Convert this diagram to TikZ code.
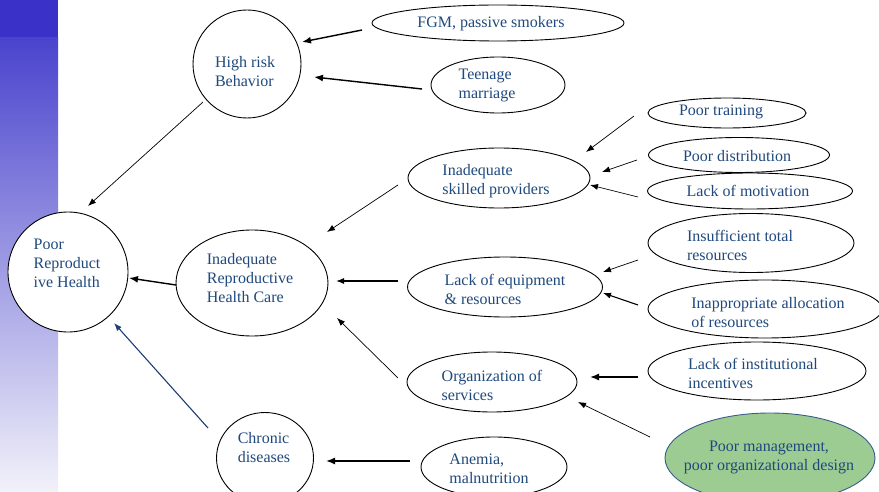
\documentclass[tikz,border=0pt]{standalone}
\usepackage{fontspec}
\setmainfont{Liberation Serif}
\usetikzlibrary{shapes.geometric,arrows.meta}
\definecolor{txtblue}{RGB}{31,73,125}
\definecolor{bardark}{RGB}{58,50,200}
\definecolor{bartop}{RGB}{74,68,205}
\definecolor{barbot}{RGB}{242,242,250}
\definecolor{mgmtgreen}{RGB}{157,204,147}
\definecolor{mgmtedge}{RGB}{56,93,138}
\definecolor{linkblue}{RGB}{31,63,120}
\begin{document}
\begin{tikzpicture}[x=1pt,y=-1pt,
  el/.style={ellipse, draw=black, fill=white, line width=0.9pt, inner sep=0pt},
  lbl/.style={text=txtblue, font=\fontsize{16}{19}\selectfont, align=left, inner sep=0pt},
  arrthin/.style={-{Latex[length=8pt,width=6pt]}, line width=0.7pt},
  arrmid/.style={-{Latex[length=8pt,width=6pt]}, line width=1.1pt},
  arrthick/.style={-{Latex[length=9pt,width=7pt]}, line width=1.4pt}]
\useasboundingbox (0,0) rectangle (879,492);
\clip (0,0) rectangle (879,492);
% side bar
\fill[bardark] (0,0) rectangle (58,38);
\shade[top color=bartop, bottom color=barbot] (0,38) rectangle (58,492);

% ellipses
\node[el, minimum width=120pt, minimum height=120pt] (pr) at (68,272) {};
\node[el, minimum width=108pt, minimum height=108pt] (hr) at (247,64) {};
\node[el, minimum width=252pt, minimum height=36pt] (fgm) at (498,23) {};
\node[el, minimum width=134pt, minimum height=56pt] (teen) at (498,85) {};
\node[el, minimum width=152pt, minimum height=106pt] (irhc) at (252,283) {};
\node[el, minimum width=182pt, minimum height=60pt] (skill) at (499,178) {};
\node[el, minimum width=158pt, minimum height=30pt] (ptrain) at (727,113) {};
\node[el, minimum width=181pt, minimum height=35pt] (pdist) at (739,155) {};
\node[el, minimum width=205pt, minimum height=36pt] (motiv) at (750,191) {};
\node[el, minimum width=195pt, minimum height=60pt] (equip) at (505,287) {};
\node[el, minimum width=206pt, minimum height=59pt] (insuff) at (751,243) {};
\node[el, minimum width=234pt, minimum height=58pt] (inapp) at (765,309) {};
\node[el, minimum width=170pt, minimum height=60pt] (org) at (492,382) {};
\node[el, minimum width=218pt, minimum height=58pt] (inst) at (757,371) {};
\node[el, draw=mgmtedge, fill=mgmtgreen, minimum width=210pt, minimum height=90pt] (mgmt) at (770,458) {};
\node[el, minimum width=146pt, minimum height=60pt] (anem) at (494,467) {};
\node[el, minimum width=97pt, minimum height=91pt] (chron) at (265,458) {};

% texts
\node[lbl] (prt) at (67,263) {Poor\\Reproduct\\ive Health};
\node[lbl] (hrt) at (245,72) {High risk\\Behavior};
\node[lbl] (fgmt) at (491,24) {FGM, passive smokers};
\node[lbl] (teent) at (487,85) {Teenage\\marriage};
\node[lbl] (irhct) at (250,278) {Inadequate\\Reproductive\\Health Care};
\node[lbl] (skillt) at (496,181) {Inadequate\\skilled providers};
\node[lbl] (ptraint) at (721,112) {Poor training};
\node[lbl] (pdistt) at (737,156) {Poor distribution};
\node[lbl] (motivt) at (748,191) {Lack of motivation};
\node[lbl] (equipt) at (505,289) {Lack of equipment\\\& resources};
\node[lbl] (insufft) at (740,245) {Insufficient total\\resources};
\node[lbl] (inappt) at (768,313) {Inappropriate allocation\\of resources};
\node[lbl] (orgt) at (492,385) {Organization of\\services};
\node[lbl] (instt) at (753,373) {Lack of institutional\\incentives};
\node[lbl, align=center] (mgmtt) at (769,457) {Poor management,\\poor organizational design};
\node[lbl] (anemt) at (489,469) {Anemia,\\malnutrition};
\node[lbl] (chront) at (264,448) {Chronic\\diseases};

% connector end points (arrows float between ellipses)
\coordinate (a1s) at (362,30);  \coordinate (a1e) at (302,42);
\coordinate (a2s) at (422,89);  \coordinate (a2e) at (314,77);
\coordinate (a3s) at (203,102); \coordinate (a3e) at (88,206);
\coordinate (a4s) at (176,285); \coordinate (a4e) at (129,278);
\coordinate (a5s) at (398,185); \coordinate (a5e) at (327,232);
\coordinate (a6s) at (398,281); \coordinate (a6e) at (336,281);
\coordinate (a7s) at (398,378); \coordinate (a7e) at (337,318);
\coordinate (a8s) at (208,428); \coordinate (a8e) at (114,323);
\coordinate (a9s) at (410,461); \coordinate (a9e) at (326,461);
\coordinate (b1s) at (634,116); \coordinate (b1e) at (586,152);
\coordinate (b2s) at (637,160); \coordinate (b2e) at (602,172);
\coordinate (b3s) at (638,197); \coordinate (b3e) at (590,185);
\coordinate (b4s) at (638,260); \coordinate (b4e) at (603,272);
\coordinate (b5s) at (638,305); \coordinate (b5e) at (603,293);
\coordinate (b6s) at (638,377); \coordinate (b6e) at (590,377);
\coordinate (b7s) at (650,437); \coordinate (b7e) at (578,402);

\draw[arrthick] (a1s) -- (a1e);
\draw[arrthick] (a2s) -- (a2e);
\draw[arrthin] (a3s) -- (a3e);
\draw[arrthick] (a4s) -- (a4e);
\draw[arrthin] (a5s) -- (a5e);
\draw[arrmid] (a6s) -- (a6e);
\draw[arrthin] (a7s) -- (a7e);
\draw[arrmid, draw=linkblue, fill=linkblue] (a8s) -- (a8e);
\draw[arrthick] (a9s) -- (a9e);
\draw[arrthin] (b1s) -- (b1e);
\draw[arrthin] (b2s) -- (b2e);
\draw[arrthin] (b3s) -- (b3e);
\draw[arrthin] (b4s) -- (b4e);
\draw[arrmid] (b5s) -- (b5e);
\draw[arrthick] (b6s) -- (b6e);
\draw[arrthin] (b7s) -- (b7e);
\end{tikzpicture}
\end{document}
